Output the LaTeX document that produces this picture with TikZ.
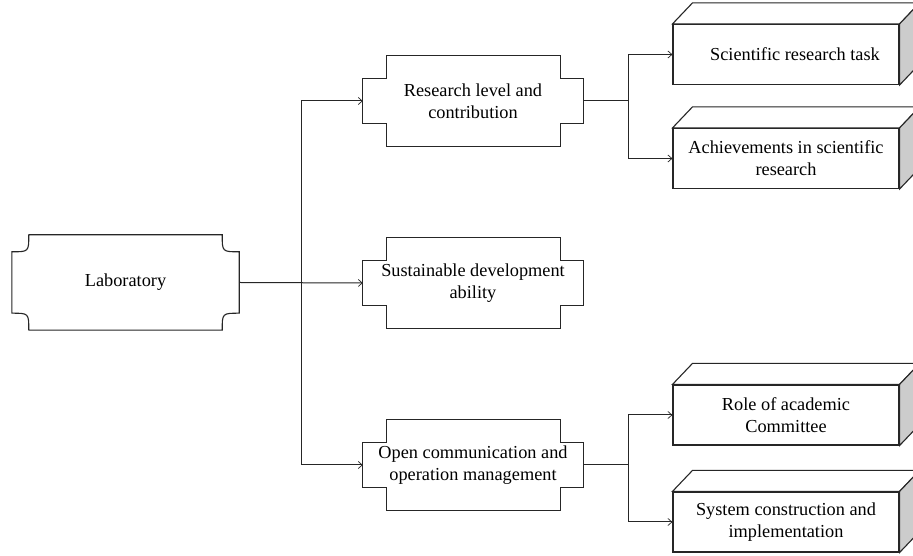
\documentclass[tikz,border=0pt]{standalone}
\usepackage{fontspec}
\setmainfont{Liberation Serif}
\usetikzlibrary{arrows.meta,calc}
\tikzset{
  lbl/.style={font=\fontsize{18.3}{22}\selectfont, align=center, inner sep=0pt},
  labnode/.style={lbl, minimum width=227pt, minimum height=95pt},
  crossnode/.style={lbl, minimum width=220pt, minimum height=44pt},
  cubenode/.style={lbl, draw=black!85, line width=1.1pt, fill=white, minimum width=226pt, minimum height=60pt},
  outline/.style={draw=black!85, line width=1.1pt, line join=miter},
  conn/.style={draw=black!85, line width=1pt, -{Straight Barb[length=4pt,width=7pt,line width=0.7pt]}},
  plainconn/.style={draw=black!85, line width=1pt},
  sideface/.style={outline, fill=black!20},
  topface/.style={outline, fill=white},
}
\newcommand\crossoutline[1]{%
  \draw[outline] (#1.north west) -- ([xshift=24pt]#1.north west) -- ([xshift=24pt,yshift=23pt]#1.north west)
   -- ([xshift=-23pt,yshift=23pt]#1.north east) -- ([xshift=-23pt]#1.north east) -- (#1.north east)
   -- (#1.south east) -- ([xshift=-23pt]#1.south east) -- ([xshift=-23pt,yshift=-23pt]#1.south east)
   -- ([xshift=24pt,yshift=-23pt]#1.south west) -- ([xshift=24pt]#1.south west) -- (#1.south west) -- cycle;}
\newcommand\cubefaces[1]{%
  \draw[topface] (#1.north west) -- ([xshift=20pt,yshift=21pt]#1.north west) -- ([xshift=20pt,yshift=21pt]#1.north east) -- (#1.north east) -- cycle;
  \draw[sideface] (#1.north east) -- ([xshift=20pt,yshift=21pt]#1.north east) -- ([xshift=20pt,yshift=21pt]#1.south east) -- (#1.south east) -- cycle;}
\begin{document}
\begin{tikzpicture}[x=1pt,y=1pt]
\useasboundingbox[fill=white] (0,0) rectangle (913,556);
% Laboratory
\node[labnode] (lab) at (125.5,273.5) {Laboratory};
\def\r{17pt}
\draw[outline] ([xshift=\r]lab.north west) -- ([xshift=-\r]lab.north east)
  .. controls ([xshift=-\r,yshift=-\r]lab.north east) .. ([yshift=-\r]lab.north east)
  -- ([yshift=\r]lab.south east)
  .. controls ([xshift=-\r,yshift=\r]lab.south east) .. ([xshift=-\r]lab.south east)
  -- ([xshift=\r]lab.south west)
  .. controls ([xshift=\r,yshift=\r]lab.south west) .. ([yshift=\r]lab.south west)
  -- ([yshift=-\r]lab.north west)
  .. controls ([xshift=\r,yshift=-\r]lab.north west) .. ([xshift=\r]lab.north west) -- cycle;
% middle column
\node[crossnode] (res) at (473,455) {Research level and\\contribution};
\node[crossnode] (sus) at (473,273) {Sustainable development\\ability};
\node[crossnode] (opn) at (473,91) {Open communication and\\operation management};
\crossoutline{res}
\crossoutline{sus}
\crossoutline{opn}
% right column
\node[cubenode] (b1) at (786,501.5) {\hspace*{18pt}Scientific research task};
\node[cubenode] (b2) at (786,397.5) {Achievements in scientific\\research};
\node[cubenode] (b3) at (786,141) {Role of academic\\Committee};
\node[cubenode] (b4) at (786,34) {System construction and\\implementation};
\cubefaces{b1}
\cubefaces{b2}
\cubefaces{b3}
\cubefaces{b4}
% connectors
\coordinate (t0) at ([xshift=62pt]lab.east);
\coordinate (t1) at ([xshift=45pt]res.east);
\coordinate (t2) at ([xshift=45pt]opn.east);
\path[conn] (lab.east) -- (sus.west);
\path[conn] (t0) |- (res.west);
\path[conn] (t0) |- (opn.west);
\path[plainconn] (res.east) -- (t1);
\path[conn] (t1) |- (b1.west);
\path[conn] (t1) |- (b2.west);
\path[plainconn] (opn.east) -- (t2);
\path[conn] (t2) |- (b3.west);
\path[conn] (t2) |- (b4.west);
\end{tikzpicture}
\end{document}
